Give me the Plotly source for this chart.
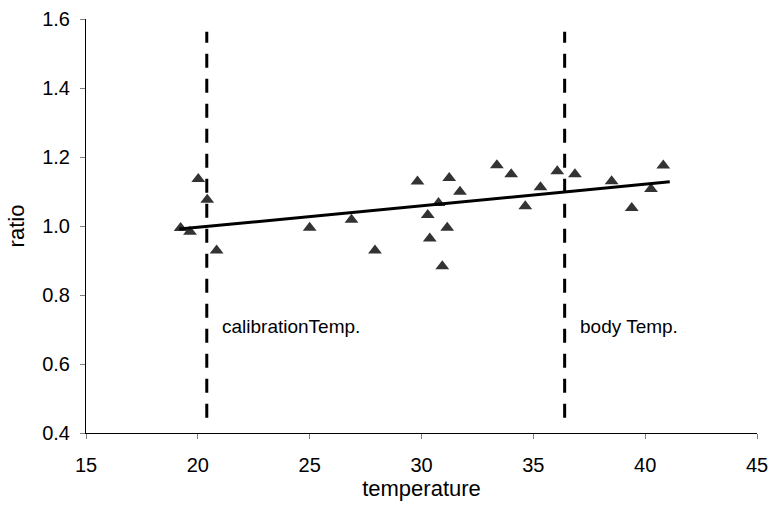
import plotly.graph_objects as go

temperature = [19.23, 19.65, 20.02, 20.42, 20.84, 25.0, 26.87, 27.92, 29.82, 30.28,
               30.37, 30.76, 30.93, 31.15, 31.24, 31.72, 33.37, 34.01, 34.64, 35.32,
               36.07, 36.86, 38.5, 39.4, 40.26, 40.81]
ratio = [0.994, 0.983, 1.136, 1.076, 0.929, 0.995, 1.018, 0.929, 1.129, 1.032,
         0.964, 1.067, 0.883, 0.995, 1.139, 1.099, 1.176, 1.150, 1.057, 1.112,
         1.159, 1.150, 1.130, 1.052, 1.107, 1.175]

trend_x = [19.17, 41.1]
trend_y = [0.991, 1.128]

calibration_temp = 20.4
body_temp = 36.4
marker_line_y = [0.444, 1.563]
label_y = 0.71

x_ticks = [15, 20, 25, 30, 35, 40, 45]
y_ticks = [0.4, 0.6, 0.8, 1.0, 1.2, 1.4, 1.6]

FONT = "Liberation Sans, Arial, sans-serif"

fig = go.Figure()
for t in (calibration_temp, body_temp):
    fig.add_trace(go.Scatter(x=[t, t], y=marker_line_y, mode="lines",
                             line=dict(color="black", width=3, dash="14px,11px"),
                             showlegend=False, hoverinfo="skip"))
fig.add_trace(go.Scatter(x=temperature, y=ratio, mode="markers",
                         marker=dict(symbol="triangle-up", size=12, color="#333333"),
                         showlegend=False))
fig.add_trace(go.Scatter(x=trend_x, y=trend_y, mode="lines",
                         line=dict(color="black", width=3), showlegend=False))

fig.add_annotation(x=calibration_temp, y=label_y, xref="x", yref="y",
                   text="calibrationTemp.", showarrow=False, xanchor="left",
                   xshift=13, font=dict(family=FONT, size=19, color="black"))
fig.add_annotation(x=body_temp, y=label_y, xref="x", yref="y",
                   text="body Temp.", showarrow=False, xanchor="left",
                   xshift=13, font=dict(family=FONT, size=19, color="black"))

fig.update_layout(
    width=770, height=508,
    margin=dict(l=86, r=13, t=19, b=75),
    plot_bgcolor="white", paper_bgcolor="white",
    font=dict(family=FONT, size=20, color="black"),
    xaxis=dict(range=[15, 45], tickvals=x_ticks, ticktext=[str(v) for v in x_ticks],
               showgrid=False, zeroline=False, showline=True, linecolor="black",
               linewidth=1, ticks="outside", ticklen=5, tickcolor="#808080",
               tickfont=dict(size=20), ticklabelstandoff=9, automargin=False,
               title=dict(text="temperature", font=dict(size=22), standoff=4)),
    yaxis=dict(range=[0.4, 1.6], tickvals=y_ticks,
               ticktext=[f"{v:.1f}" for v in y_ticks],
               showgrid=False, zeroline=False, showline=True, linecolor="black",
               linewidth=1, ticks="outside", ticklen=5, tickcolor="#808080",
               tickfont=dict(size=20), ticklabelstandoff=6, automargin=False,
               title=dict(text="ratio", font=dict(size=22), standoff=11)),
)

fig.write_html("out.html")
